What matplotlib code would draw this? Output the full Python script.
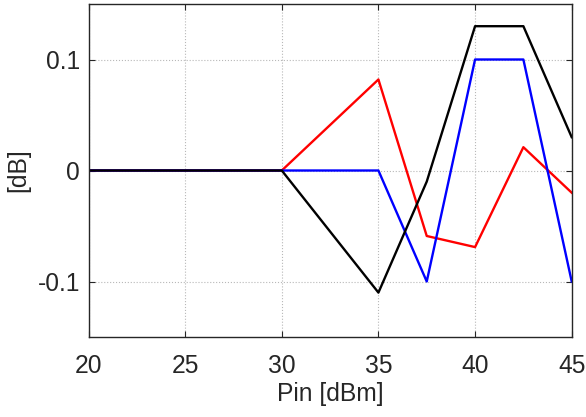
import matplotlib
matplotlib.use("Agg")
import matplotlib.pyplot as plt

pin = [20, 25, 30, 35, 37.5, 40, 42.5, 45]
black = [0, 0, 0, -0.11, -0.01, 0.13, 0.13, 0.03]
red = [0, 0, 0, 0.082, -0.059, -0.069, 0.021, -0.02]
blue = [0, 0, 0, 0, -0.1, 0.1, 0.1, -0.1]
xticks = [20, 25, 30, 35, 40, 45]
yticks = [-0.1, 0, 0.1]
yticklabels = ["-0.1", "0", "0.1"]

plt.rcParams['font.family'] = ['Liberation Sans', 'DejaVu Sans']
fs = 17.7
fig = plt.figure(figsize=(5.86, 4.17), dpi=100)
ax = fig.add_axes([88.5/586, 1-337/417, (571.7-88.5)/586, (337-4)/417])

ax.plot(pin, red, color='red', lw=1.7)
ax.plot(pin, blue, color='blue', lw=1.7)
ax.plot(pin, black, color='black', lw=1.7)

ax.set_xlim(20, 45)
ax.set_ylim(-0.15, 0.15)
ax.set_xticks(xticks)
ax.set_yticks(yticks)
ax.set_yticklabels(yticklabels)
ax.grid(True, color='#b8b8b8', linestyle=':', linewidth=0.8)
ax.tick_params(direction='in', top=True, right=True, labelsize=fs, colors='#262626', length=4)
ax.tick_params(axis='x', pad=12)
ax.tick_params(axis='y', pad=6)
for s in ax.spines.values():
    s.set_color('#262626')
    s.set_linewidth(1.0)
ax.set_xlabel('Pin [dBm]', fontsize=fs, color='#262626', labelpad=3)
ax.set_ylabel('[dB]', fontsize=fs, color='#262626', labelpad=5)

fig.savefig('out.png', dpi=100)
